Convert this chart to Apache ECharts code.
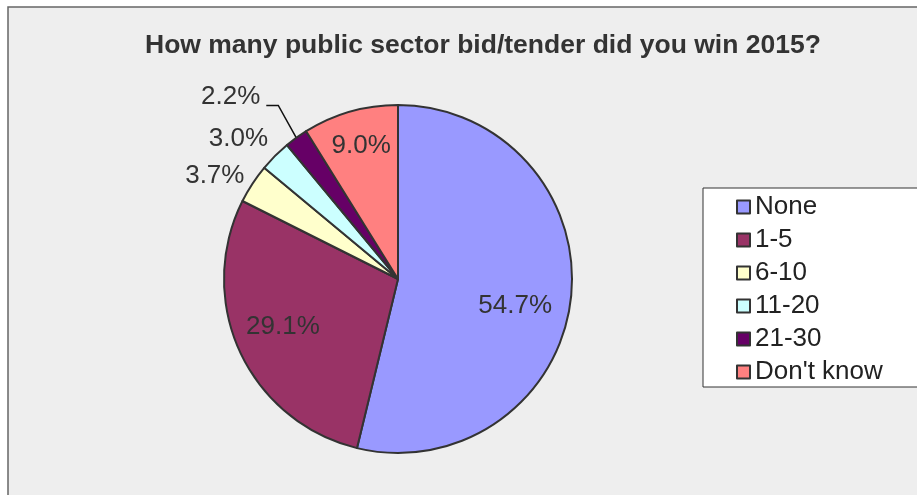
<!DOCTYPE html>
<html>
<head>
<meta charset="utf-8">
<script src="https://cdn.jsdelivr.net/npm/echarts@6/dist/echarts.min.js"></script>
<style>
  html, body { margin: 0; padding: 0; background: #ffffff; }
  #chart { width: 917px; height: 495px; }
</style>
</head>
<body>
<div id="chart"></div>
<script>
// Survey answers and their shares (percent)
const categories = ['None', '1-5', '6-10', '11-20', '21-30', "Don't know"];
const shares = [54.7, 29.1, 3.7, 3.0, 2.2, 9.0];
const sliceColors = ['#9999FF', '#993366', '#FFFFCC', '#CCFFFF', '#660066', '#FF8080'];
const titleText = 'How many public sector bid/tender did you win 2015?';

// Pie geometry (pixels)
const CX = 398, CY = 279, R = 174;
// Where each label sits: distance from the centre as a fraction of the radius,
// plus a small nudge in pixels
const labelRadius = [0.69, 0.716, 1.21, 1.216, 1.41, 0.793];
const labelNudge = [[-2, 13], [-2, -5], [-7, 12], [-10, 10], [-24, 17], [1, 0]];
// Slices whose label sits outside the pie; the last one gets a leader line
const outsideLabels = [2, 3, 4];
const leaderLabels = [4];

const total = shares.reduce((a, b) => a + b, 0);
// Mid-angle of each slice, measured clockwise from 12 o'clock
const midAngles = [];
{
  let acc = 0;
  shares.forEach(v => {
    const sweep = v / total * 2 * Math.PI;
    midAngles.push(acc + sweep / 2);
    acc += sweep;
  });
}

const chart = echarts.init(document.getElementById('chart'), null, { renderer: 'canvas' });

const pieData = categories.map((name, i) => ({
  name: name,
  value: shares[i],
  itemStyle: { color: sliceColors[i] },
  label: { position: outsideLabels.includes(i) ? 'outside' : 'inside' },
  labelLine: { show: leaderLabels.includes(i) }
}));

chart.setOption({
  animation: false,
  backgroundColor: '#ffffff',
  graphic: [{
    type: 'rect',
    silent: true,
    z: -10,
    shape: { x: 8, y: 7, width: 1000, height: 600 },
    style: { fill: '#eeeeee', stroke: '#666666', lineWidth: 1.5 }
  }],
  title: {
    text: titleText,
    left: 145,
    top: 33,
    padding: 0,
    textStyle: {
      fontFamily: 'Liberation Sans, Arial, sans-serif',
      fontSize: 26.5,
      fontWeight: 'bold',
      color: '#333333',
      lineHeight: 26
    }
  },
  legend: {
    orient: 'vertical',
    left: 703,
    top: 188,
    data: categories,
    icon: 'rect',
    itemWidth: 13,
    itemHeight: 13,
    itemGap: 7,
    padding: [6, 45, 2, 33],
    backgroundColor: '#ffffff',
    borderColor: '#333333',
    borderWidth: 1,
    textStyle: {
      fontFamily: 'Liberation Sans, Arial, sans-serif',
      fontSize: 26,
      color: '#222222',
      lineHeight: 26
    }
  },
  series: [{
    type: 'pie',
    center: [CX, CY],
    radius: [0, R],
    startAngle: 90,
    clockwise: true,
    avoidLabelOverlap: false,
    data: pieData,
    itemStyle: { borderColor: '#333333', borderWidth: 2 },
    emphasis: { disabled: true },
    label: {
      show: true,
      formatter: p => p.value.toFixed(1) + '%',
      fontFamily: 'Liberation Sans, Arial, sans-serif',
      fontSize: 26,
      color: '#333333'
    },
    labelLine: {
      show: false,
      lineStyle: { color: '#111111', width: 1.5 }
    },
    labelLayout: function (params) {
      const i = params.dataIndex;
      const a = midAngles[i];
      const dx = Math.sin(a), dy = -Math.cos(a);
      const x = CX + dx * R * labelRadius[i] + labelNudge[i][0];
      const y = CY + dy * R * labelRadius[i] + labelNudge[i][1];
      const out = { x: x, y: y, align: 'center', verticalAlign: 'middle' };
      if (leaderLabels.includes(i)) {
        const edge = [CX + dx * R, CY + dy * R];
        const endX = x + params.labelRect.width / 2 + 6;
        const endY = y + 8.5;
        out.labelLinePoints = [edge, [endX + 12, endY], [endX, endY]];
      }
      return out;
    }
  }]
});
</script>
</body>
</html>
